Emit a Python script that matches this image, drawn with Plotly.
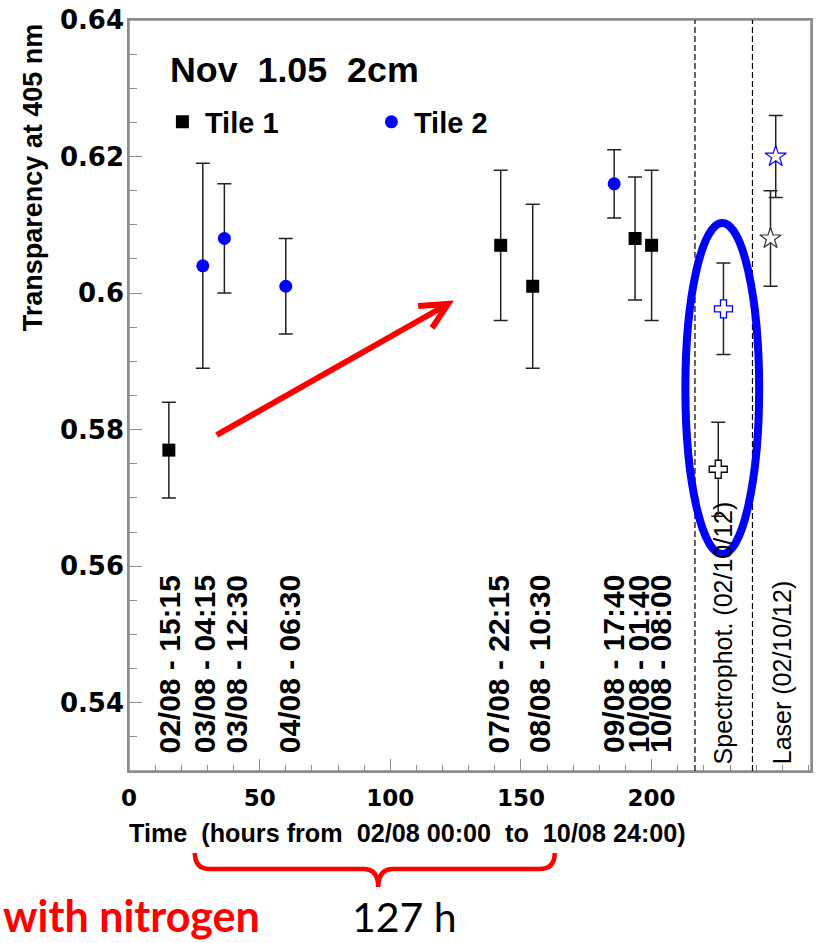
import plotly.graph_objects as go

# ---------------- data ----------------
tile1_hours = [15.25, 142.25, 154.5, 193.67, 200.0]
tile1_transp = [0.577, 0.607, 0.601, 0.608, 0.607]
tile1_err = [0.007, 0.011, 0.012, 0.009, 0.011]

tile2_hours = [28.25, 36.5, 60.0, 185.67]
tile2_transp = [0.604, 0.608, 0.601, 0.616]
tile2_err = [0.015, 0.008, 0.007, 0.005]

spectro_hours = [225.5, 227.5]          # tile 1, tile 2
spectro_transp = [0.5742, 0.5977]
spectro_err = [0.0069, 0.0067]

laser_hours = [245.5, 247.5]            # tile 1, tile 2
laser_transp = [0.608, 0.620]
laser_err = [0.007, 0.006]

tile_colors = ["#000000", "#0000ff"]

date_labels = ["02/08 - 15:15", "03/08 - 04:15", "03/08 - 12:30", "04/08 - 06:30",
               "07/08 - 22:15", "08/08 - 10:30", "09/08 - 17:40", "10/08 - 01:40",
               "10/08 - 08:00"]
date_label_x = [15.4, 28.7, 41.0, 61.2, 141.3, 157.2, 185.5, 194.8, 203.5]

section_labels = ["Spectrophot. (02/10/12)", "Laser (02/10/12)"]
section_label_x = [227.2, 249.7]
section_bounds = [216.6, 238.6]

x_tick_vals = [0, 50, 100, 150, 200]
y_tick_vals = [0.54, 0.56, 0.58, 0.60, 0.62, 0.64]
y_tick_text = ["0.54", "0.56", "0.58", "0.6", "0.62", "0.64"]

# ---------------- layout geometry ----------------
W, H = 817, 943
PL, PT, PR, PB = 129, 20, 813, 771        # plot frame in window pixels
ML, MT, MR, MB = PL, PT, W - PR, H - PB
PW, PH = PR - PL, PB - PT


def px(x):
    return (x - PL) / PW


def py(y):
    return (PB - y) / PH


AX_GREY = "#8c8c8c"
BOLD = "Liberation Sans, Arial, sans-serif"

err_style = dict(type="data", thickness=1.5, width=7, color="#222222")

fig = go.Figure()

fig.add_trace(go.Scatter(
    x=tile1_hours, y=tile1_transp, mode="markers", name="Tile 1",
    marker=dict(symbol="square", size=13, color=tile_colors[0]),
    error_y=dict(array=tile1_err, **err_style)))

fig.add_trace(go.Scatter(
    x=tile2_hours, y=tile2_transp, mode="markers", name="Tile 2",
    marker=dict(symbol="circle", size=13, color=tile_colors[1]),
    error_y=dict(array=tile2_err, **err_style)))

fig.add_trace(go.Scatter(
    x=spectro_hours, y=spectro_transp, mode="markers", showlegend=False,
    marker=dict(symbol="cross", size=15, color="white",
                line=dict(color=tile_colors, width=1.3)),
    error_y=dict(array=spectro_err, **err_style)))

fig.add_trace(go.Scatter(
    x=laser_hours, y=laser_transp, mode="markers", showlegend=False,
    marker=dict(symbol="star", size=16, color="white",
                line=dict(color=["#333333", tile_colors[1]], width=1.2)),
    error_y=dict(array=laser_err, **err_style)))

annotations = []
# date labels
for lab, xv in zip(date_labels, date_label_x):
    annotations.append(dict(x=xv, y=0.5323, xref="x", yref="y", text=lab,
                            textangle=-90, showarrow=False, xanchor="center",
                            yanchor="bottom",
                            font=dict(family=BOLD, size=30, color="black", weight="bold")))
for lab, xv in zip(section_labels, section_label_x):
    annotations.append(dict(x=xv, y=0.5307, xref="x", yref="y", text=lab,
                            textangle=-90, showarrow=False, xanchor="center",
                            yanchor="bottom",
                            font=dict(family=BOLD, size=25, color="black")))

# title inside frame
annotations.append(dict(x=px(168), y=py(70), xref="paper", yref="paper",
                        text="Nov\u00a0\u00a01.05\u00a0\u00a02cm", showarrow=False,
                        xanchor="left", yanchor="middle",
                        font=dict(family=BOLD, size=35.8, color="black", weight="bold")))
# axis titles
annotations.append(dict(x=px(33), y=py(177), xref="paper", yref="paper",
                        text="Transparency at 405 nm", textangle=-90, showarrow=False,
                        xanchor="center", yanchor="middle",
                        font=dict(family=BOLD, size=27, color="black", weight="bold")))
annotations.append(dict(x=px(408), y=py(833), xref="paper", yref="paper",
                        text="Time\u00a0\u00a0(hours from\u00a0\u00a002/08 00:00\u00a0\u00a0to\u00a0\u00a010/08 24:00)",
                        showarrow=False, xanchor="center", yanchor="middle",
                        font=dict(family=BOLD, size=25.2, color="black", weight="bold")))
# slide annotations
annotations.append(dict(x=px(1), y=py(915), xref="paper", yref="paper",
                        text="with nitrogen", showarrow=False, xanchor="left",
                        yanchor="middle",
                        font=dict(family="Lato, Open Sans, sans-serif", size=43,
                                  color="#ff0000", weight="bold")))
annotations.append(dict(x=px(405), y=py(916), xref="paper", yref="paper",
                        text="127 h", showarrow=False, xanchor="center",
                        yanchor="middle",
                        font=dict(family="Lato, Open Sans, sans-serif", size=41,
                                  color="black")))


def path(points, cmds):
    s = ""
    i = 0
    for c in cmds:
        if c in "ML":
            x, y = points[i]
            s += f"{c} {px(x):.5f},{py(y):.5f} "
            i += 1
        elif c == "Q":
            (x1, y1), (x2, y2) = points[i], points[i + 1]
            s += f"Q {px(x1):.5f},{py(y1):.5f} {px(x2):.5f},{py(y2):.5f} "
            i += 2
    return s.strip()


shapes = []
# plot frame
shapes.append(dict(type="rect", xref="paper", yref="paper", x0=0, x1=1, y0=0, y1=1,
                   line=dict(color=AX_GREY, width=1.5), layer="below"))
for xb in section_bounds:
    shapes.append(dict(type="line", xref="x", yref="paper", x0=xb, x1=xb, y0=0, y1=1,
                       line=dict(color="black", width=1.2, dash="6px,3px")))

# red arrow
shapes.append(dict(type="path", xref="paper", yref="paper",
                   path=path([(217, 435), (449, 304)], "ML"),
                   line=dict(color="#ff0000", width=6)))
shapes.append(dict(type="path", xref="paper", yref="paper",
                   path=path([(419, 306), (449, 304), (433, 328)], "MLL"),
                   line=dict(color="#ff0000", width=6)))

# blue ellipse
shapes.append(dict(type="circle", xref="paper", yref="paper",
                   x0=px(687), x1=px(761), y0=py(554), y1=py(223),
                   line=dict(color="#0000ff", width=8)))

# red brace
brace_pts = [(195, 853), (195, 869), (210, 869), (364, 869), (379, 869), (379, 887),
             (379, 869), (394, 869), (541, 869), (556, 869), (556, 853)]
shapes.append(dict(type="path", xref="paper", yref="paper",
                   path=path(brace_pts, "MQLQQLQ"),
                   line=dict(color="#ff0000", width=4.5)))

axis_common = dict(showline=True, mirror=True, linecolor=AX_GREY, linewidth=1.5,
                   showgrid=False, zeroline=False, ticks="inside", tickcolor=AX_GREY,
                   tickwidth=1.2)

fig.update_layout(
    width=W, height=H,
    margin=dict(l=ML, r=MR, t=MT, b=MB, pad=0),
    paper_bgcolor="white", plot_bgcolor="white",
    xaxis=dict(range=[0, 261], tickvals=x_tick_vals, ticklen=12,
               minor=dict(dtick=10, ticklen=6, ticks="inside", tickcolor=AX_GREY,
                          tickwidth=1.2),
               ticklabelstandoff=6,
               tickfont=dict(family="DejaVu Sans, sans-serif", size=23,
                             color="black", weight="bold"),
               **axis_common),
    yaxis=dict(range=[0.53, 0.64], tickvals=y_tick_vals, ticktext=y_tick_text,
               ticklen=13,
               minor=dict(dtick=0.005, tick0=0.53, ticklen=8, ticks="inside",
                          tickcolor=AX_GREY, tickwidth=1.2),
               ticklabelstandoff=-2,
               tickfont=dict(family="DejaVu Sans, sans-serif", size=26,
                             color="black", weight="bold"),
               **axis_common),
    showlegend=True,
    legend=dict(orientation="h", x=px(160), y=py(122), xanchor="left", yanchor="middle",
                xref="paper", yref="paper", bgcolor="rgba(0,0,0,0)",
                itemwidth=35, entrywidth=159, entrywidthmode="pixels",
                font=dict(family=BOLD, size=29, color="black", weight="bold")),
    annotations=annotations,
    shapes=shapes,
)

fig.write_html(
    "out.html",
    config={"displayModeBar": False},
    post_script="document.body.style.margin='0px';document.body.style.overflow='hidden';",
)
